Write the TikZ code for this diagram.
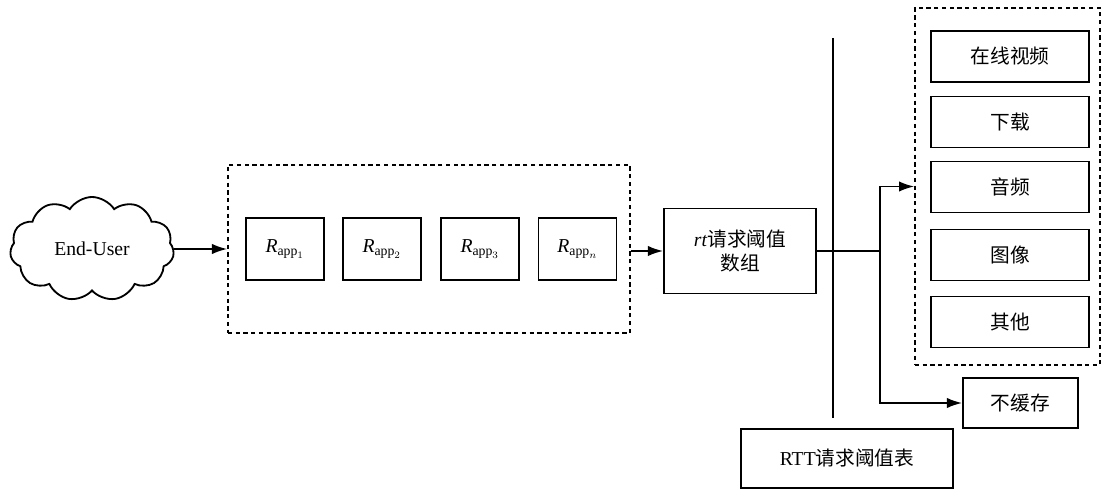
\documentclass[tikz,border=0pt]{standalone}
\usepackage{fontspec}
\setmainfont{Liberation Serif}
\newfontfamily\cjk{Noto Sans CJK SC}
\usetikzlibrary{shapes.symbols,arrows.meta}

\tikzset{
  px/.style={x=0.025cm,y=-0.025cm},
  box/.style={draw,line width=1.3pt,inner sep=0pt,align=center,font=\fontsize{14}{17}\selectfont},
  grpbox/.style={draw,line width=1.1pt,dash pattern=on 3pt off 2.5pt,inner sep=0pt},
  arr/.style={line width=1.3pt,-{Latex[length=3.8mm,width=2.6mm]}},
  wire/.style={line width=1.3pt},
}

\begin{document}
\begin{tikzpicture}[px]
\useasboundingbox (0,0) rectangle (1104,490);

\node[cloud,draw,line width=1.3pt,cloud puffs=11,cloud puff arc=115,aspect=1.6,
      minimum width=4.1cm,minimum height=2.6cm,inner sep=0pt,
      font=\fontsize{14}{17}\selectfont] (user) at (92,249) {End-User};

% request group
\node[grpbox,minimum width=10.05cm,minimum height=4.2cm] (grpapp) at (429,249) {};
\foreach \x/\s/\k in {285/1/a,382/2/b,480/3/c,577.5/n/d}{
    \node[box,minimum width=1.95cm,minimum height=1.55cm] (app\k) at (\x,249)
        {\textit{R}$_{\mathrm{app}_{\s}}$};
}

\node[box,minimum width=3.8cm,minimum height=2.125cm] (rt) at (740,251)
    {\textit{rt}{\cjk 请求阈值}\\{\cjk 数组}};

% content types
\node[grpbox,minimum width=4.625cm,minimum height=8.925cm] (grptype) at (1007.5,186.5) {};
\foreach \y/\t/\k in {56.5/在线视频/a,122/下载/b,187/音频/c,255/图像/d,322/其他/e}{
    \node[box,minimum width=3.95cm,minimum height=1.275cm] (type\k) at (1010,\y) {\cjk \t};
}
\node[box,minimum width=2.875cm,minimum height=1.25cm] (nocache) at (1020.5,403) {\cjk 不缓存};

\node[box,minimum width=5.3cm,minimum height=1.475cm] (rtt) at (847,458.5) {RTT{\cjk 请求阈值表}};

\coordinate (bus) at (833,38);
\coordinate (split) at (880,251);

\draw[arr] (user.east) -- (user.east -| grpapp.west);
\draw[arr] (grpapp.east |- rt.west) -- (rt.west);
\draw[wire] (rt.east) -- (split);
\draw[arr] (split) |- (grptype.west);
\draw[arr] (split) |- (nocache.west);
\draw[wire] (bus) -- ([yshift=0.25cm]bus |- rtt.north);

\end{tikzpicture}
\end{document}
